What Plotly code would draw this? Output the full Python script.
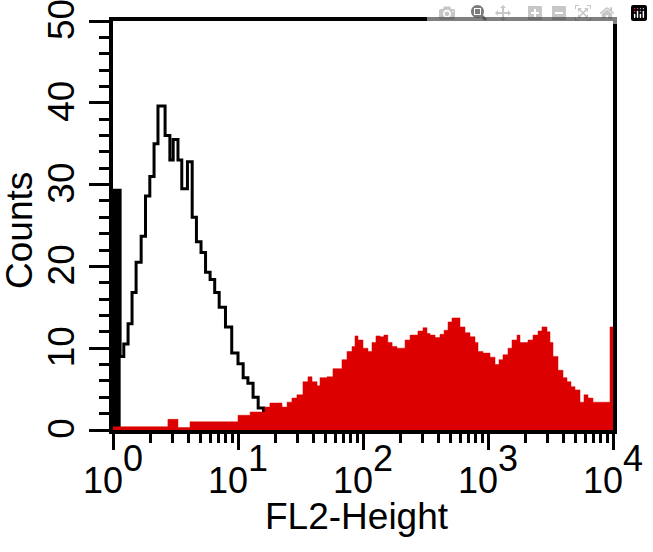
import plotly.graph_objects as go

# Stained sample (red filled histogram): left bin edges on FL2 scale and counts
fl2_red = [1.0, 2.75, 3.31, 4.13, 10.0, 12.5, 16.4, 18.0, 22.5, 24.7, 27.0, 29.6,
           33.1, 36.3, 39.1, 42.9, 45.3, 51.5, 57.5, 67.9, 74.5, 81.7, 86.3, 91.2,
           100, 109.6, 118, 127, 137, 147, 158, 171, 187, 217, 238, 275, 302, 325,
           344, 377, 413, 445, 479, 515, 597, 655, 718, 787, 832, 912, 1038, 1138,
           1225, 1318, 1445, 1556, 1706, 1803, 2089, 2291, 2512, 2704, 2965, 3133,
           3311, 3631, 3981, 4285, 4613, 4966, 5445, 5861, 6310, 6918, 9462, 10000]
counts_red = [0.4, 1.3, 0.3, 1.0, 1.8, 2.2, 2.8, 3.3, 2.8, 3.4, 3.9, 4.3,
              5.9, 6.5, 5.9, 5.4, 6.4, 6.5, 7.5, 8.6, 9.6, 10.2, 11.5, 11.0,
              10.0, 9.6, 10.7, 11.5, 11.4, 11.6, 10.7, 10.2, 10.0, 11.0, 11.6, 12.1, 12.5, 11.8,
              11.6, 11.3, 11.7, 12.2, 13.2, 13.7, 12.6, 11.9, 11.4, 10.7, 9.6, 9.4, 8.9, 8.0,
              8.6, 9.2, 10.0, 11.0, 11.6, 10.7, 11.0, 11.6, 12.1, 12.6, 12.0, 10.7,
              9.0, 7.3, 6.4, 5.9, 5.3, 4.9, 3.4, 4.3, 3.9, 3.4, 12.6, 12.6]

# Control (black outline histogram)
fl2_black = [1.0, 1.14, 1.22, 1.32, 1.42, 1.53, 1.68, 1.82, 1.97, 2.13, 2.29, 2.61,
             2.85, 3.03, 3.31, 3.55, 3.94, 4.30, 4.65, 5.06, 5.50, 5.98, 6.51, 7.07,
             7.94, 8.91, 10.0, 11.0, 12.0, 13.2, 14.5, 16.0, 20.0, 28.0, 40.0]
counts_black = [29.3, 9.0, 10.5, 13.0, 16.8, 20.5, 23.7, 28.6, 31.0, 35.0, 39.6, 36.0,
                33.0, 35.5, 33.0, 29.5, 32.8, 26.0, 23.0, 21.7, 19.3, 18.4, 16.8, 15.0,
                12.6, 9.4, 8.1, 6.4, 5.7, 4.0, 2.7, 2.3, 1.5, 0.8, 0.0]

# first control channel drawn as a solid bar
bar_x = [1.0, 1.0, 1.14, 1.14]
bar_y = [0, 29.3, 29.3, 0]

x_tickvals = [1, 10, 100, 1000, 10000]
x_exponents = ["0", "1", "2", "3", "4"]
y_tickvals = [0, 10, 20, 30, 40, 50]
y_ticktext = ["0", "10", "20", "30", "40", "50"]
x_title = "FL2-Height"
y_title = "Counts"

RED = "#dc0000"
FONT = "Liberation Sans, Arial, sans-serif"

fig = go.Figure()
fig.add_trace(go.Scatter(x=fl2_black, y=counts_black, mode="lines",
                         line=dict(color="black", width=3, shape="hv"),
                         hoverinfo="skip", showlegend=False))
fig.add_trace(go.Scatter(x=bar_x, y=bar_y, mode="lines", fill="toself",
                         fillcolor="black", line=dict(color="black", width=1),
                         hoverinfo="skip", showlegend=False))
fig.add_trace(go.Scatter(x=fl2_red, y=counts_red, mode="lines",
                         line=dict(color=RED, width=0.5, shape="hv"),
                         fill="tozeroy", fillcolor=RED,
                         hoverinfo="skip", showlegend=False))

x_ticktext = ["10<sup><span style='font-size:36px;baseline-shift:7px'>%s</span></sup>" % e
              for e in x_exponents]

fig.update_layout(
    width=653, height=552,
    margin=dict(l=113, r=40, t=21, b=122),
    paper_bgcolor="white", plot_bgcolor="white",
    font=dict(family=FONT, color="black"),
    xaxis=dict(
        type="log", range=[0, 4], automargin=False,
        tickvals=x_tickvals, ticktext=x_ticktext,
        tickfont=dict(family=FONT, size=36, color="black"),
        ticklabeloverflow="allow",
        ticks="outside", ticklen=16, tickwidth=3, tickcolor="black",
        minor=dict(ticks="outside", ticklen=9, tickwidth=3, tickcolor="black",
                   dtick="D1", showgrid=False),
        showline=True, linecolor="black", linewidth=4, mirror=True,
        showgrid=False, zeroline=False,
    ),
    yaxis=dict(
        range=[0, 50], automargin=False,
        tickvals=y_tickvals, ticktext=y_ticktext,
        tickangle=-90,
        tickfont=dict(family=FONT, size=37, color="black"),
        ticklabeloverflow="allow",
        ticklabelshift=4,
        ticks="outside", ticklen=20, tickwidth=3, tickcolor="black",
        minor=dict(ticks="outside", ticklen=10, tickwidth=3, tickcolor="black",
                   dtick=2, showgrid=False),
        showline=True, linecolor="black", linewidth=4, mirror=True,
        showgrid=False, zeroline=False,
    ),
    annotations=[
        dict(text=x_title, xref="paper", yref="paper", x=0.487, y=-0.2127,
             xanchor="center", yanchor="middle", showarrow=False,
             font=dict(family=FONT, size=37, color="black")),
        dict(text=y_title, xref="paper", yref="paper", x=-0.186, y=0.4866,
             xanchor="center", yanchor="middle", showarrow=False, textangle=-90,
             font=dict(family=FONT, size=37, color="black")),
    ],
)

# remove the default 8px page margin so the figure sits at the window's top-left corner
fig.write_html("out.html",
               post_script="document.body.style.margin='0';document.body.style.padding='0';")
